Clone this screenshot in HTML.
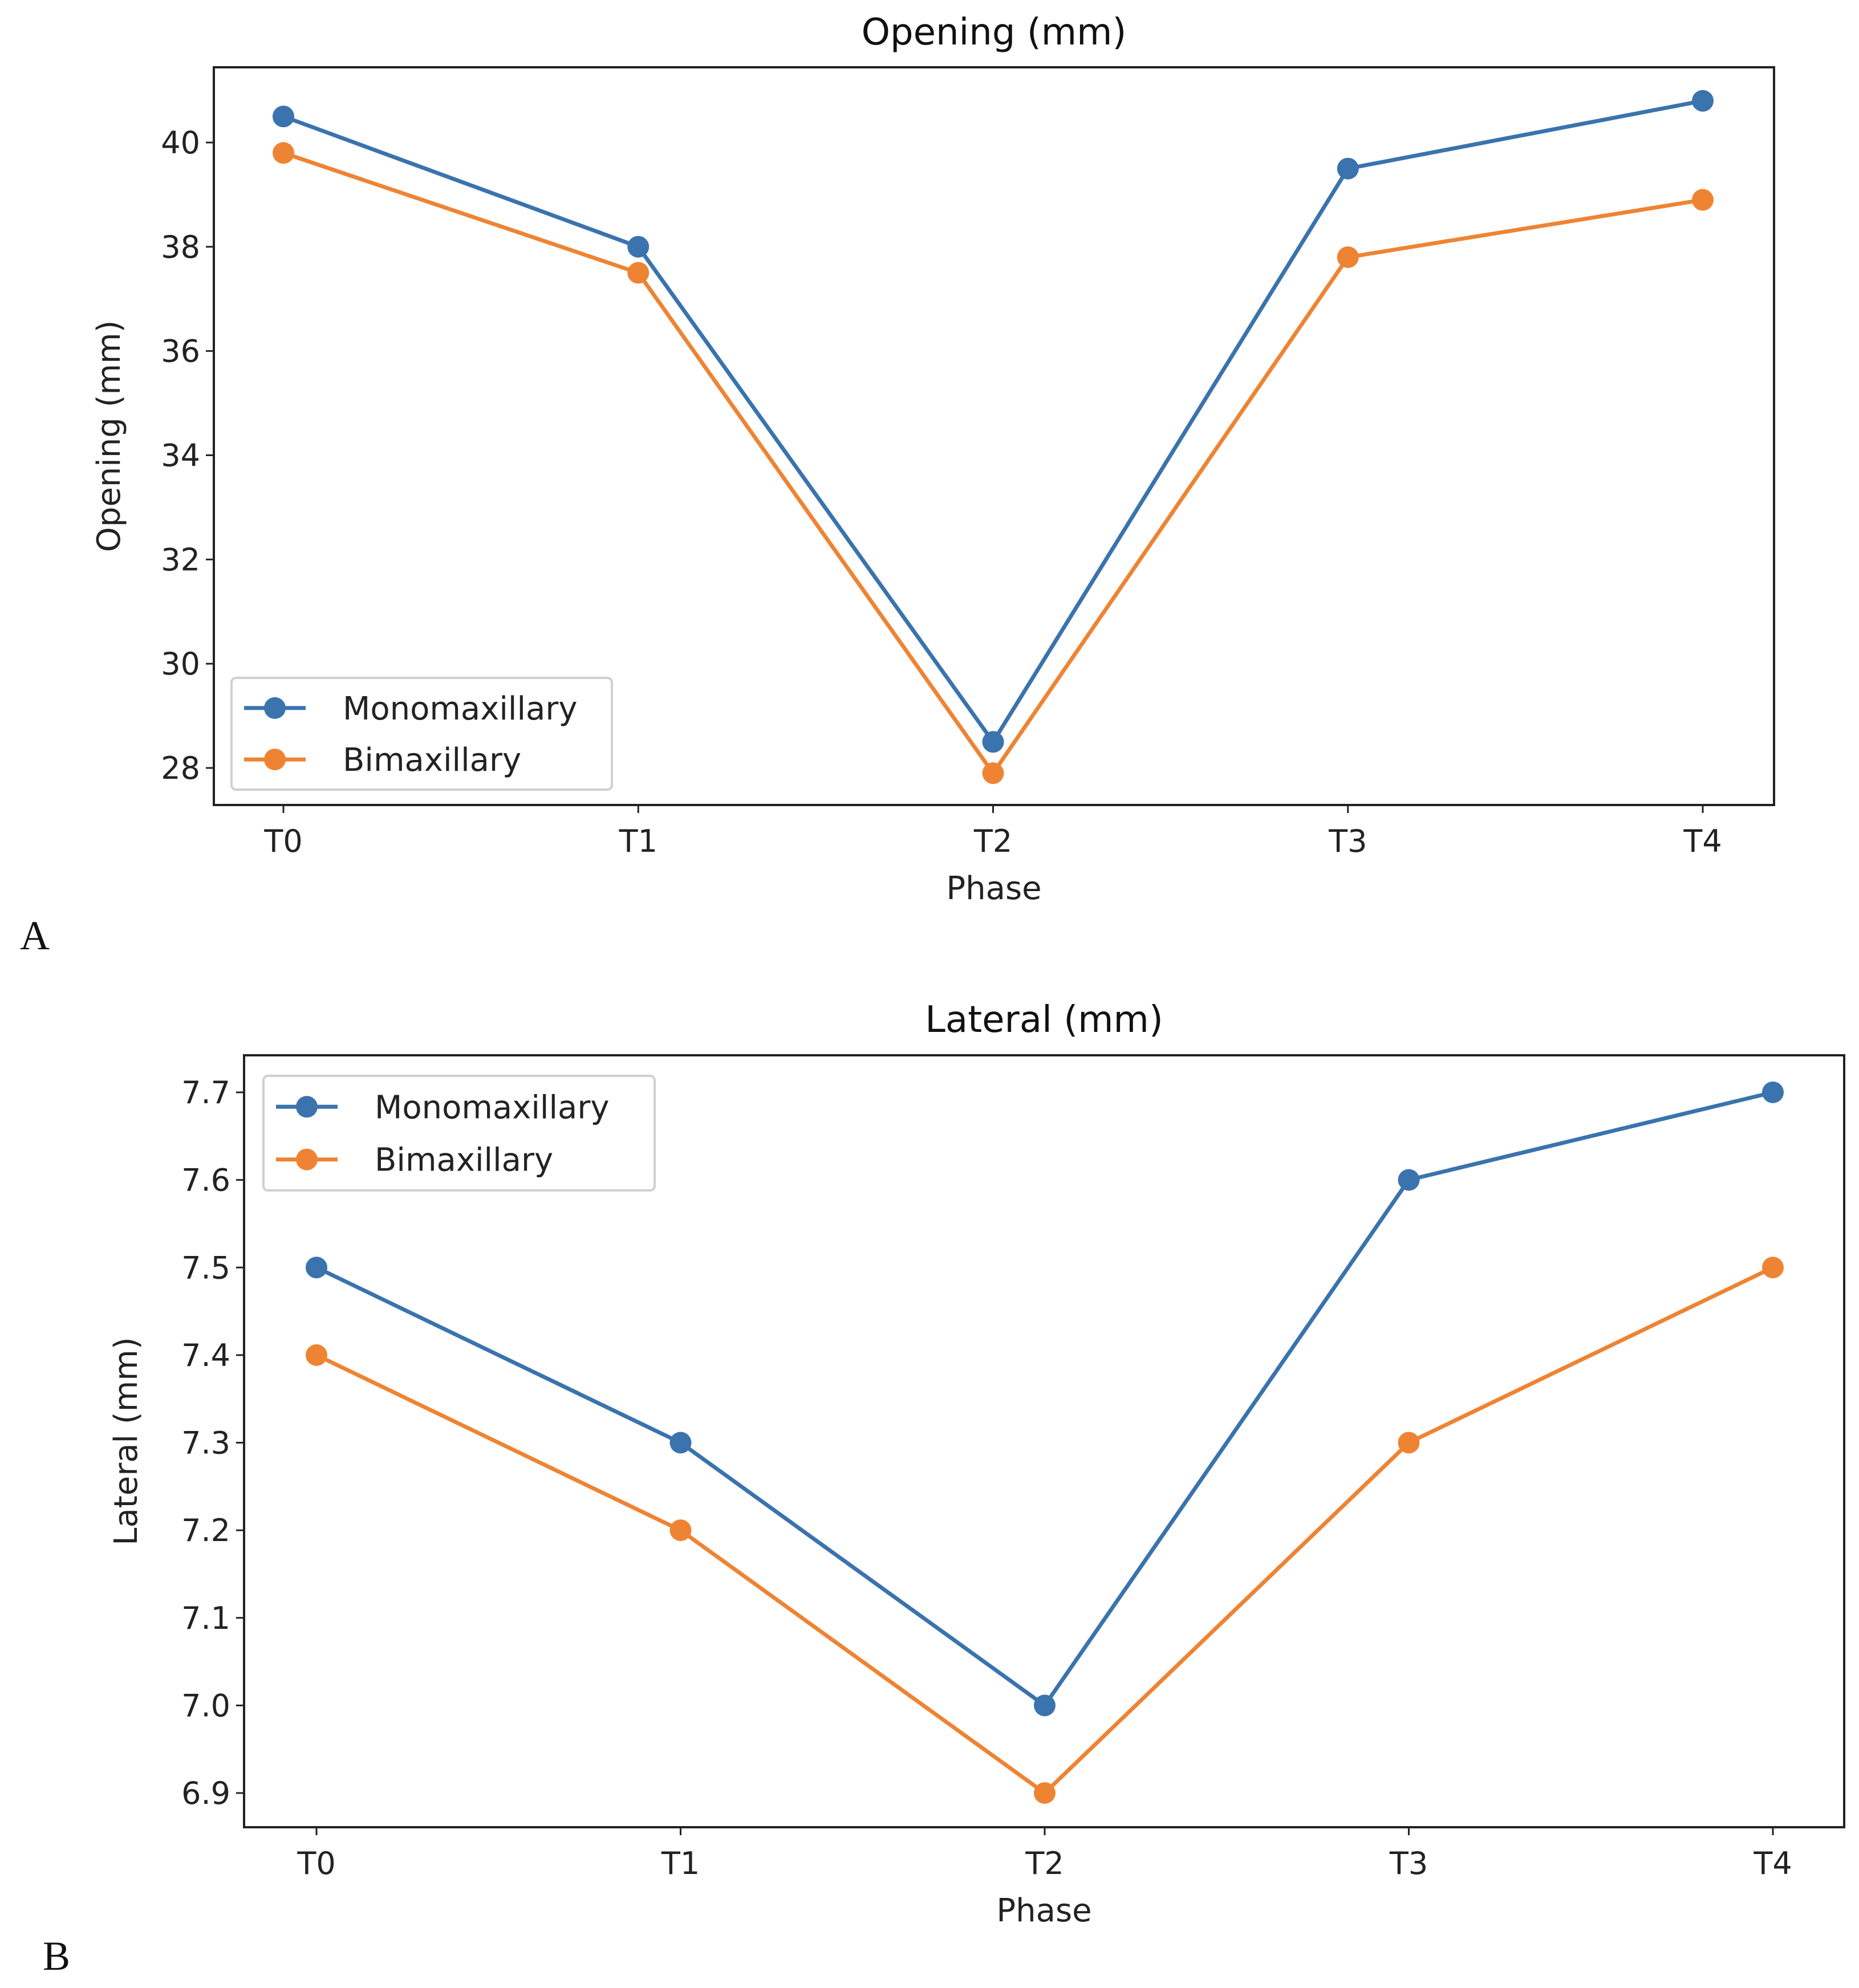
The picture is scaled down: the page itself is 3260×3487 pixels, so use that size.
<!DOCTYPE html>
<html><head><meta charset="utf-8"><style>
html,body{margin:0;padding:0;background:#fff;}
svg{display:block;font-family:"DejaVu Sans","Liberation Sans",sans-serif;}
</style></head><body>
<svg id="fig" width="3260" height="3487" viewBox="0 0 3260 3487" xmlns="http://www.w3.org/2000/svg"></svg>
<script>
const phases = ["T0","T1","T2","T3","T4"];
const openMono = [40.5, 38.0, 28.5, 39.5, 40.8];
const openBi = [39.8, 37.5, 27.9, 37.8, 38.9];
const openTicks = [28, 30, 32, 34, 36, 38, 40];
const latMono = [7.5, 7.3, 7.0, 7.6, 7.7];
const latBi = [7.4, 7.2, 6.9, 7.3, 7.5];
const latTicks = [6.9, 7.0, 7.1, 7.2, 7.3, 7.4, 7.5, 7.6, 7.7];
const seriesNames = ["Monomaxillary", "Bimaxillary"];
const colors = ["#3a73ad", "#ee8433"];

const NS = "http://www.w3.org/2000/svg";
const svg = document.getElementById("fig");
function mk(tag, attrs, parent){
  const e = document.createElementNS(NS, tag);
  for (const k in attrs) e.setAttribute(k, attrs[k]);
  (parent || svg).appendChild(e);
  return e;
}

function drawChart(cfg){
  const g = mk("g", {});
  
  
  const xs = i => cfg.x0 + (cfg.x4 - cfg.x0) * i / (phases.length - 1);
  const ys = v => cfg.yA + (v - cfg.vA) * (cfg.yB - cfg.yA) / (cfg.vB - cfg.vA);
  const frame = mk("rect", {x: cfg.L, y: cfg.T, width: cfg.R - cfg.L, height: cfg.B - cfg.T, fill: "none", stroke: "#222", "stroke-width": 4}, g);
  
  
  const title = mk("text", {x: (cfg.L + cfg.R) / 2, y: cfg.titleY, "font-size": 64, "text-anchor": "middle", fill: "#111"}, g);
  title.textContent = cfg.title;
  
  
  cfg.ticks.forEach(t => {
    const y = ys(t);
    mk("line", {x1: cfg.L - 14, x2: cfg.L, y1: y, y2: y, stroke: "#222", "stroke-width": 3}, g);
    const tx = mk("text", {x: cfg.L - 24, y: y + 19, "font-size": 54, "text-anchor": "end", fill: "#222"}, g);
    tx.textContent = cfg.fmt(t);
    
    
  });
  phases.forEach((p, i) => {
    const x = xs(i);
    mk("line", {x1: x, x2: x, y1: cfg.B, y2: cfg.B + 14, stroke: "#222", "stroke-width": 3}, g);
    const tx = mk("text", {x: x, y: cfg.B + 82, "font-size": 54, "text-anchor": "middle", fill: "#222"}, g);
    tx.textContent = p;
    
    
  });
  const xl = mk("text", {x: (cfg.L + cfg.R) / 2, y: cfg.B + 165, "font-size": 56, "text-anchor": "middle", fill: "#222"}, g);
  xl.textContent = "Phase";
  
  
  const ym = (cfg.T + cfg.B) / 2;
  const yl = mk("text", {x: cfg.ylX, y: ym, "font-size": 56, "text-anchor": "middle", fill: "#222", transform: "rotate(-90 " + cfg.ylX + " " + ym + ")"}, g);
  yl.textContent = cfg.ylabel;
  
  
  [cfg.s1, cfg.s2].forEach((vals, si) => {
    const pts = vals.map((v, i) => xs(i) + "," + ys(v)).join(" ");
    const pl = mk("polyline", {points: pts, fill: "none", stroke: colors[si], "stroke-width": 7}, g);
    
    
    vals.forEach((v, i) => {
      const c = mk("circle", {cx: xs(i), cy: ys(v), r: 19, fill: colors[si]}, g);
      
      
    });
  });
  const lg = mk("g", {}, g);
  
  
  mk("rect", {x: cfg.lgX, y: cfg.lgY, width: cfg.lgW, height: cfg.lgH, rx: 8, fill: "#fff", stroke: "#d0d0d0", "stroke-width": 4}, lg);
  seriesNames.forEach((n, si) => {
    const y = cfg.lgY + cfg.lgH * (0.27 + 0.46 * si);
    mk("line", {x1: cfg.lgX + 22, x2: cfg.lgX + 130, y1: y, y2: y, stroke: colors[si], "stroke-width": 7}, lg);
    mk("circle", {cx: cfg.lgX + 76, cy: y, r: 19, fill: colors[si]}, lg);
    const t = mk("text", {x: cfg.lgX + 195, y: y + 20, "font-size": 56, fill: "#222"}, lg);
    t.textContent = n;
    
    
  });
  const pl = mk("text", {x: cfg.panelX, y: cfg.panelY, "font-size": 72, fill: "#111", "font-family": "Liberation Serif, serif"}, g);
  pl.textContent = cfg.panel;
  
  
}

drawChart({id: "opening", title: "Opening (mm)", ylabel: "Opening (mm)", s1: openMono, s2: openBi, ticks: openTicks, fmt: t => String(t),
  L: 375, R: 3111, T: 118, B: 1412, x0: 497, x4: 2986, yA: 250, vA: 40, yB: 1347, vB: 28,
  titleY: 78, ylX: 210, lgX: 406, lgY: 1189, lgW: 667, lgH: 196, panel: "A", panelX: 35, panelY: 1665});
drawChart({id: "lateral", title: "Lateral (mm)", ylabel: "Lateral (mm)", s1: latMono, s2: latBi, ticks: latTicks, fmt: t => t.toFixed(1),
  L: 428, R: 3234, T: 1851, B: 3205, x0: 555, x4: 3109, yA: 1916, vA: 7.7, yB: 3145, vB: 6.9,
  titleY: 1810, ylX: 240, lgX: 462, lgY: 1887, lgW: 686, lgH: 201, panel: "B", panelX: 75, panelY: 3455});
</script>
</body></html>
